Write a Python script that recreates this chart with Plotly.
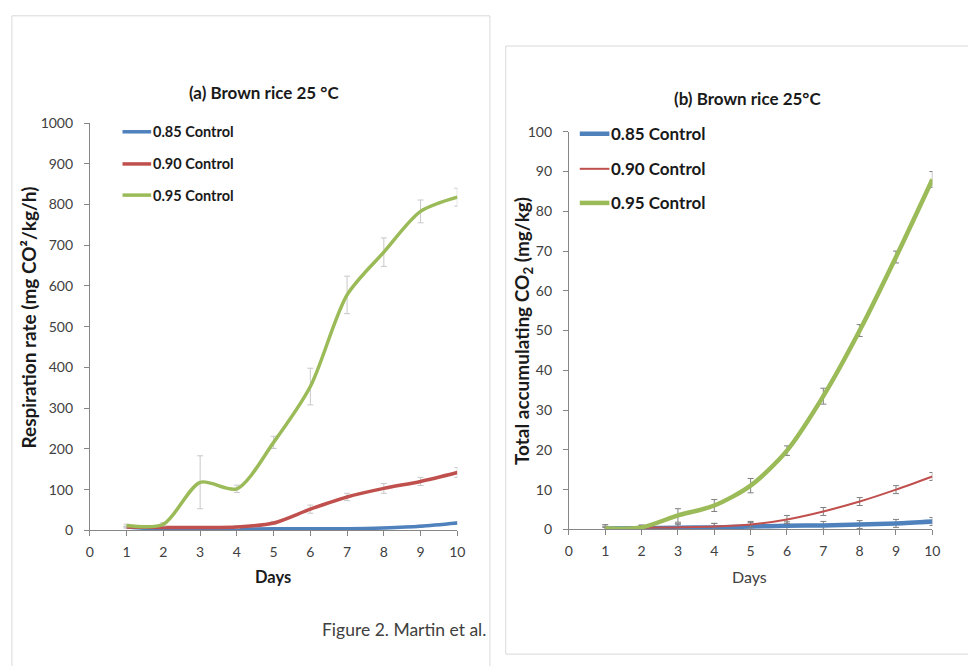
import plotly.graph_objects as go

W, H = 968, 666

days = [1, 2, 3, 4, 5, 6, 7, 8, 9, 10]
series_names = ["0.85 Control", "0.90 Control", "0.95 Control"]
colors = ["#4f81bd", "#c0504d", "#9bbb59"]

# Panel (a): respiration rate (mg CO2/kg/h)
resp_085 = [8, 2, 3, 3, 4, 4, 4, 6, 10, 18]
resp_090 = [8, 7, 7, 8, 18, 52, 82, 103, 120, 142]
resp_095 = [12, 15, 118, 102, 216, 353, 578, 683, 783, 818]
resp_085_err = [2, 2, 2, 2, 2, 2, 2, 2, 3, 3]
resp_090_err = [2, 2, 2, 3, 4, 10, 9, 12, 10, 12]
resp_095_err = [3, 4, 65, 9, 15, 45, 46, 35, 28, 22]

# Panel (b): total accumulating CO2 (mg/kg)
acc_085 = [0.2, 0.3, 0.4, 0.5, 0.7, 0.9, 1.0, 1.2, 1.5, 2.0]
acc_090 = [0.3, 0.4, 0.5, 0.7, 1.2, 2.5, 4.5, 7.0, 10.0, 13.3]
acc_095 = [0.2, 0.5, 3.5, 6.0, 11.0, 19.8, 33.5, 50.0, 68.5, 88.0]
acc_085_err = [1.0, 0.8, 1.0, 1.0, 1.0, 1.0, 1.0, 1.0, 1.0, 1.0]
acc_090_err = [0.5, 0.5, 0.8, 0.8, 0.8, 1.0, 1.0, 1.0, 1.0, 1.0]
acc_095_err = [0.3, 0.5, 1.7, 1.5, 1.8, 1.2, 2.0, 1.5, 1.5, 2.0]

x_ticks = list(range(0, 11))

FONT = "Lato"
TXT = "#404040"


def px(x):
    return x / W


def py(y):
    return 1 - y / H


fig = go.Figure()

panel_a = [(resp_085, resp_085_err, 3.5), (resp_090, resp_090_err, 3.5), (resp_095, resp_095_err, 3.5)]
panel_b = [(acc_085, acc_085_err, 4.5), (acc_090, acc_090_err, 2), (acc_095, acc_095_err, 4.5)]

for i, (vals, err, w) in enumerate(panel_a):
    fig.add_trace(go.Scatter(
        x=days, y=vals, mode="lines", name=series_names[i],
        line=dict(color=colors[i], width=w, shape="spline", smoothing=0.8),
        error_y=dict(type="data", array=err, visible=True, color="#c8c8c8", thickness=1, width=3),
        xaxis="x", yaxis="y", showlegend=False,
    ))

for i, (vals, err, w) in enumerate(panel_b):
    fig.add_trace(go.Scatter(
        x=days, y=vals, mode="lines", name=series_names[i],
        line=dict(color=colors[i], width=w, shape="spline", smoothing=0.8),
        error_y=dict(type="data", array=err, visible=True, color="#808080", thickness=1, width=3),
        xaxis="x2", yaxis="y2", showlegend=False,
    ))

axis_common = dict(
    showgrid=False, zeroline=False, showline=True, linecolor="#868686", linewidth=1,
    ticks="outside", ticklen=5, tickcolor="#868686",
    tickfont=dict(family=FONT, size=14, color=TXT),
)

fig.update_layout(
    width=W, height=H,
    margin=dict(l=0, r=0, t=0, b=0),
    paper_bgcolor="white", plot_bgcolor="white",
    xaxis=dict(domain=[px(87), px(459)], range=[0, 10], tickvals=x_ticks, anchor="y",
               ticklabelstandoff=4, **axis_common),
    yaxis=dict(domain=[py(535), py(117)], range=[0, 1000], dtick=100, anchor="x",
               ticklabelstandoff=8, **axis_common),
    xaxis2=dict(domain=[px(572), px(940)], range=[0, 10], tickvals=x_ticks, anchor="y2",
                ticklabelstandoff=4, **axis_common),
    yaxis2=dict(domain=[py(534), py(126)], range=[0, 100], dtick=10, anchor="x2",
                ticklabelstandoff=8, **axis_common),
)

shapes = [
    dict(type="rect", xref="paper", yref="paper", x0=px(8), x1=px(492), y0=py(720), y1=py(7),
         line=dict(color="#d9d9d9", width=1), fillcolor="rgba(0,0,0,0)", layer="below"),
    dict(type="rect", xref="paper", yref="paper", x0=px(508), x1=px(990), y0=py(662), y1=py(38),
         line=dict(color="#d9d9d9", width=1), fillcolor="rgba(0,0,0,0)", layer="below"),
]

annotations = []


def text(x, y, s, size, bold=False, anchor="center", angle=0, color=TXT):
    annotations.append(dict(
        x=px(x), y=py(y), xref="paper", yref="paper", text=("<b>%s</b>" % s) if bold else s,
        showarrow=False, xanchor=anchor, yanchor="middle", textangle=angle,
        font=dict(family=FONT, size=size, color="#1a1a1a" if bold else color),
    ))


# Titles
text(263, 86, "(a) Brown rice 25 °C", 17, bold=True)
text(753, 92, "(b) Brown rice 25°C", 17, bold=True)
# Axis titles
text(25, 317, "Respiration rate (mg CO²/kg/h)", 19, bold=True, angle=-90)
text(272, 583, "Days", 16.5, bold=True)
text(525, 330, "Total accumulating CO<sub>2</sub> (mg/kg)", 19, bold=True, angle=-90)
text(755, 582, "Days", 16)
# Footer
text(490, 637, "Figure 2. Martin et al.", 17.5, anchor="right")

# Legends
leg_a_y = [126, 159, 191]
leg_b_y = [128, 164, 199]
leg_a_w = [3.5, 3.5, 3.5]
leg_b_w = [4.5, 2, 4.5]
for i in range(3):
    shapes.append(dict(type="line", xref="paper", yref="paper", x0=px(120), x1=px(149),
                       y0=py(leg_a_y[i]), y1=py(leg_a_y[i]), line=dict(color=colors[i], width=leg_a_w[i])))
    text(149, leg_a_y[i], series_names[i], 14.5, bold=True, anchor="left")
    shapes.append(dict(type="line", xref="paper", yref="paper", x0=px(583), x1=px(613),
                       y0=py(leg_b_y[i]), y1=py(leg_b_y[i]), line=dict(color=colors[i], width=leg_b_w[i])))
    text(613, leg_b_y[i], series_names[i], 17, bold=True, anchor="left")

fig.update_layout(shapes=shapes, annotations=annotations)

post = (
    "document.documentElement.style.margin='0';"
    "document.documentElement.style.overflow='hidden';"
    "document.body.style.margin='0';document.body.style.padding='0';"
    "document.body.style.overflow='hidden';"
    "var d=document.querySelector('.plotly-graph-div');"
    "d.style.position='fixed';d.style.left='0px';d.style.top='0px';"
)

fig.write_html("out.html", config={"displayModeBar": False}, post_script=post)
